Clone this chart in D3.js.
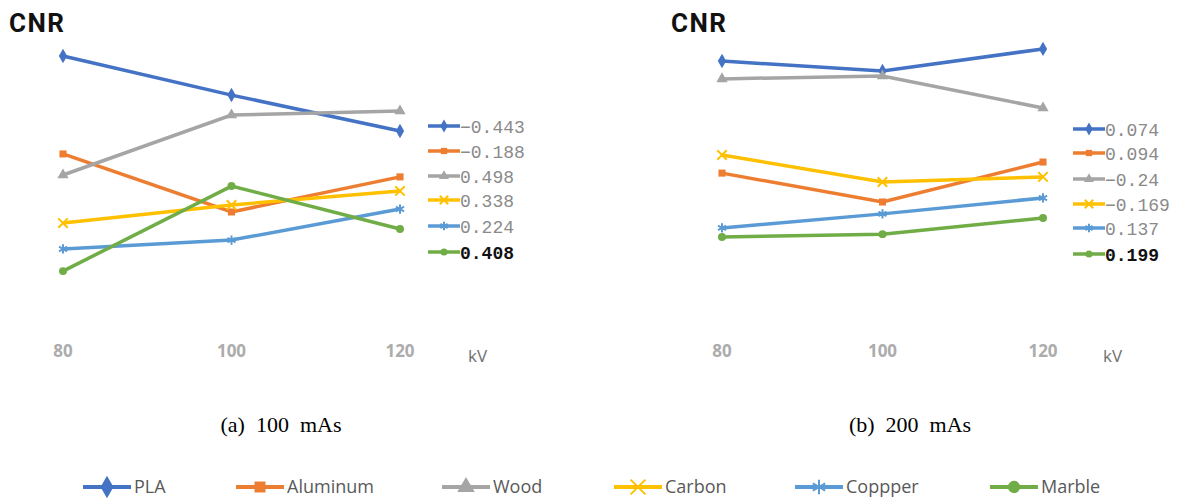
<!DOCTYPE html>
<html>
<head>
<meta charset="utf-8">
<script src="https://cdn.jsdelivr.net/npm/d3@7"></script>
<style>
  body { margin: 0; background: #fff; }
</style>
</head>
<body>
<div id="chart"></div>
<script>
// data (arbitrary CNR units, no axis shown)
const kv = [80, 100, 120];
const materials = ["PLA", "Aluminum", "Wood", "Carbon", "Coppper", "Marble"];
const colors = ["#4472C4", "#ED7D31", "#A5A5A5", "#FFC000", "#5B9BD5", "#70AD47"];

const pla100 = [9.41, 7.96, 6.63];
const alu100 = [5.78, 3.63, 4.93];
const wood100 = [5.00, 7.22, 7.37];
const carbon100 = [3.22, 3.89, 4.41];
const copper100 = [2.26, 2.59, 3.74];
const marble100 = [1.44, 4.59, 3.00];

const pla200 = [9.22, 8.85, 9.67];
const alu200 = [5.07, 4.00, 5.48];
const wood200 = [8.56, 8.67, 7.48];
const carbon200 = [5.74, 4.74, 4.93];
const copper200 = [3.04, 3.56, 4.15];
const marble200 = [2.70, 2.81, 3.41];

const labels100 = ["\u22120.443", "\u22120.188", "0.498", "0.338", "0.224", "0.408"];
const labels200 = ["0.074", "0.094", "\u22120.24", "\u22120.169", "0.137", "0.199"];

const captions = ["(a)\u00a0\u00a0100\u00a0\u00a0mAs", "(b)\u00a0\u00a0200\u00a0\u00a0mAs"];

const symbols = [d3.symbolDiamond, d3.symbolSquare, d3.symbolTriangle, d3.symbolX, d3.symbolAsterisk, d3.symbolCircle];
const strokeOnly = [false, false, false, true, true, false];
const symSize = [60, 50, 55, 60, 60, 50];

const svg = d3.select("#chart")
    .append("svg")
    .attr("width", 1186)
    .attr("height", 499);

const y = d3.scaleLinear().domain([0, 10]).range([310, 40]);

const panels = [
  {series: [pla100, alu100, wood100, carbon100, copper100, marble100], labels: labels100,
   x: d3.scaleLinear().domain([80, 120]).range([63, 400]),
   title: 9, legX: 428, legY: [126, 151, 176, 200, 226, 252], kvX: 468, cap: 281},
  {series: [pla200, alu200, wood200, carbon200, copper200, marble200], labels: labels200,
   x: d3.scaleLinear().domain([80, 120]).range([722, 1043]),
   title: 671, legX: 1073, legY: [129, 153, 179, 204, 228, 254], kvX: 1103, cap: 910}
];

function marker(g, i, cx, cy, scale) {
  const s = scale || 1;
  g.append("path")
    .attr("d", d3.symbol().type(symbols[i]).size(symSize[i] * s)())
    .attr("transform", "translate(" + cx + "," + cy + ")")
    .attr("fill", strokeOnly[i] ? "none" : colors[i])
    .attr("stroke", colors[i])
    .attr("stroke-width", strokeOnly[i] ? 2 : 0);
}

panels.forEach(p => {
  const g = svg.append("g");

  g.append("text")
    .attr("x", p.title)
    .attr("y", 32)
    .attr("font-family", "Roboto, sans-serif")
    .attr("font-weight", "bold")
    .attr("font-size", 26)
    .attr("letter-spacing", 1.5)
    .attr("fill", "#111")
    .text("CNR");

  const line = d3.line()
    .x((d, i) => p.x(kv[i]))
    .y(d => y(d));

  p.series.forEach((s, i) => {
    g.append("path")
      .datum(s)
      .attr("d", line)
      .attr("fill", "none")
      .attr("stroke", colors[i])
      .attr("stroke-width", 3.5);
    s.forEach((v, j) => marker(g, i, p.x(kv[j]), y(v)));
  });

  // x tick labels, no axis line
  g.selectAll(".tick")
    .data(kv)
    .join("text")
    .attr("x", d => p.x(d))
    .attr("y", 357)
    .attr("text-anchor", "middle")
    .attr("font-family", "'Open Sans', sans-serif")
    .attr("font-weight", "bold")
    .attr("font-size", 17)
    .attr("fill", "#acacac")
    .text(d => d);

  g.append("text")
    .attr("x", p.kvX)
    .attr("y", 362)
    .attr("font-family", "'Open Sans', sans-serif")
    .attr("font-size", 17)
    .attr("fill", "#707070")
    .text("kV");

  // value legend on the right side of each panel
  p.labels.forEach((t, i) => {
    const ly = p.legY[i];
    g.append("line")
      .attr("x1", p.legX).attr("x2", p.legX + 32)
      .attr("y1", ly).attr("y2", ly)
      .attr("stroke", colors[i])
      .attr("stroke-width", 3.5);
    marker(g, i, p.legX + 16, ly, 0.8);
    g.append("text")
      .attr("x", p.legX + 32)
      .attr("y", ly + 7)
      .attr("font-family", "'Liberation Mono', monospace")
      .attr("font-size", 18)
      .attr("font-weight", i === 5 ? "bold" : "normal")
      .attr("fill", i === 5 ? "#111" : "#8a8a8a")
      .text(t);
  });
});

panels.forEach((p, k) => {
  svg.append("text")
    .attr("x", p.cap)
    .attr("y", 432)
    .attr("text-anchor", "middle")
    .attr("font-family", "'Liberation Serif', serif")
    .attr("font-size", 22)
    .attr("fill", "#000")
    .text(captions[k]);
});

// bottom legend
const legLineX = [83, 236, 442, 614, 795, 990];
const legend = svg.append("g");
materials.forEach((m, i) => {
  const lx = legLineX[i];
  legend.append("line")
    .attr("x1", lx).attr("x2", lx + 48)
    .attr("y1", 487).attr("y2", 487)
    .attr("stroke", colors[i])
    .attr("stroke-width", 4);
  marker(legend, i, lx + 24, 487, 2.4);
  legend.append("text")
    .attr("x", lx + 51)
    .attr("y", 493)
    .attr("font-family", "'Open Sans', sans-serif")
    .attr("font-size", 18)
    .attr("fill", "#595959")
    .text(m);
});
</script>
</body>
</html>
